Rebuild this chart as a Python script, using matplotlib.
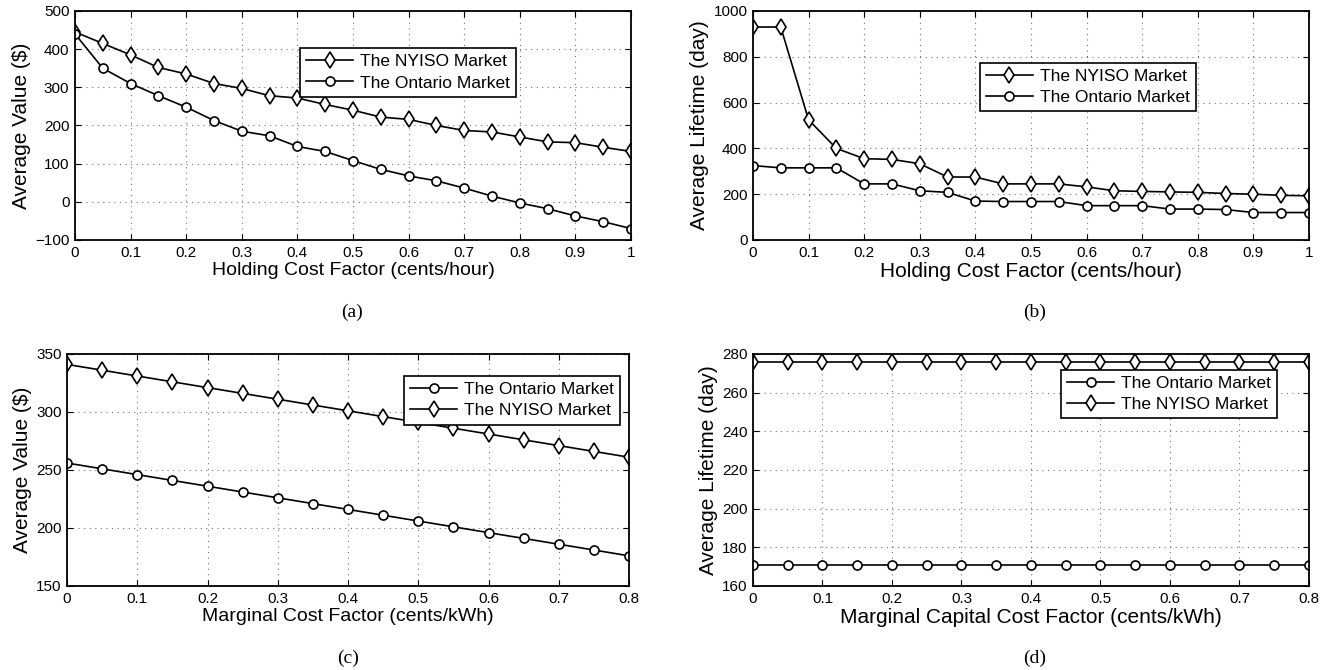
import matplotlib
matplotlib.use("Agg")
import matplotlib.pyplot as plt
import numpy as np

plt.rcParams["font.family"] = ["Liberation Sans", "DejaVu Sans"]

# ---- data ----
hold_x = [0, 0.05, 0.1, 0.15, 0.2, 0.25, 0.3, 0.35, 0.4, 0.45, 0.5,
          0.55, 0.6, 0.65, 0.7, 0.75, 0.8, 0.85, 0.9, 0.95, 1.0]
marg_x = [0, 0.05, 0.1, 0.15, 0.2, 0.25, 0.3, 0.35, 0.4, 0.45, 0.5,
          0.55, 0.6, 0.65, 0.7, 0.75, 0.8]

a_nyiso = [445, 415, 385, 352, 335, 310, 297, 278, 272, 255, 240,
           222, 216, 200, 187, 183, 170, 157, 155, 143, 132]
a_ontario = [440, 350, 310, 278, 248, 213, 185, 173, 145, 132, 108,
             85, 68, 55, 36, 15, -3, -18, -37, -52, -70]

b_nyiso = [930, 930, 525, 400, 355, 352, 333, 275, 275, 245, 245,
           245, 232, 215, 212, 210, 208, 203, 200, 195, 193]
b_ontario = [325, 315, 315, 315, 245, 245, 215, 208, 170, 168, 168,
             168, 150, 150, 150, 135, 135, 133, 120, 120, 120]

c_nyiso = [341, 336, 331, 326, 321, 316, 311, 306, 301, 296, 291,
           286, 281, 276, 271, 266, 261]
c_ontario = [256, 251, 246, 241, 236, 231, 226, 221, 216, 211, 206,
             201, 196, 191, 186, 181, 176]

d_nyiso = [276] * 17
d_ontario = [171] * 17

fig = plt.figure(figsize=(13.27, 6.70), dpi=100)

line = dict(color="black", lw=1.2, markerfacecolor="white",
            markeredgecolor="black", markeredgewidth=1.2)
dia = dict(marker="d", markersize=8, **line)
circ = dict(marker="o", markersize=6.5, **line)


def style(ax, xlim, ylim, yticks, xticks, xlabel, ylabel, xfs):
    ax.set_xlim(*xlim)
    ax.set_ylim(*ylim)
    ax.set_xticks(xticks)
    ax.set_yticks(yticks)
    ax.set_xticklabels([f"{t:g}" for t in xticks])
    ax.set_yticklabels([f"{t:g}".replace("-", "\u2212") for t in yticks])
    ax.grid(True, linestyle=(0, (1, 4)), color="black", lw=0.8, alpha=0.55)
    ax.tick_params(direction="in", top=True, right=True, labelsize=11,
                   length=4, pad=4)
    for s in ax.spines.values():
        s.set_linewidth(1.3)
    ax.set_xlabel(xlabel, fontsize=xfs, labelpad=2)
    ax.set_ylabel(ylabel, fontsize=15, labelpad=3)


def legend(ax, loc, anchor):
    lg = ax.legend(loc=loc, bbox_to_anchor=anchor, fontsize=12.5,
                   fancybox=False, edgecolor="black", framealpha=1,
                   borderpad=0.35, handlelength=2.7, handletextpad=0.4,
                   labelspacing=0.35, borderaxespad=0)
    lg.get_frame().set_linewidth(1.2)


# (a)
ax = fig.add_axes([0.0565, 0.6418, 0.419, 0.3418])
ax.plot(hold_x, a_nyiso, label="The NYISO Market", **dia)
ax.plot(hold_x, a_ontario, label="The Ontario Market", **circ)
style(ax, (0, 1), (-100, 500), np.arange(-100, 501, 100),
      np.round(np.arange(0, 1.01, 0.1), 1),
      "Holding Cost Factor (cents/hour)", "Average Value ($)", 14)
legend(ax, "upper left", (0.405, 0.838))
fig.text(0.265, 0.534, "(a)", fontsize=14, family="Liberation Serif",
         ha="center", va="center")

# (b)
ax = fig.add_axes([0.5674, 0.6418, 0.419, 0.3418])
ax.plot(hold_x, b_nyiso, label="The NYISO Market", **dia)
ax.plot(hold_x, b_ontario, label="The Ontario Market", **circ)
style(ax, (0, 1), (0, 1000), np.arange(0, 1001, 200),
      np.round(np.arange(0, 1.01, 0.1), 1),
      "Holding Cost Factor (cents/hour)", "Average Lifetime (day)", 15)
legend(ax, "upper left", (0.408, 0.775))
fig.text(0.7795, 0.534, "(b)", fontsize=14, family="Liberation Serif",
         ha="center", va="center")

# (c)
ax = fig.add_axes([0.0505, 0.1254, 0.4235, 0.3463])
ax.plot(marg_x, c_ontario, label="The Ontario Market", **circ)
ax.plot(marg_x, c_nyiso, label="The NYISO Market", **dia)
style(ax, (0, 0.8), (150, 350), np.arange(150, 351, 50),
      np.round(np.arange(0, 0.81, 0.1), 1),
      "Marginal Cost Factor (cents/kWh)", "Average Value ($)", 14)
legend(ax, "upper right", (0.984, 0.905))
fig.text(0.262, 0.018, "(c)", fontsize=14, family="Liberation Serif",
         ha="center", va="center")

# (d)
ax = fig.add_axes([0.5674, 0.1254, 0.419, 0.3463])
ax.plot(marg_x, d_ontario, label="The Ontario Market", **circ)
ax.plot(marg_x, d_nyiso, label="The NYISO Market", **dia)
style(ax, (0, 0.8), (160, 280), np.arange(160, 281, 20),
      np.round(np.arange(0, 0.81, 0.1), 1),
      "Marginal Capital Cost Factor (cents/kWh)", "Average Lifetime (day)", 15)
legend(ax, "upper right", (0.943, 0.933))
fig.text(0.7795, 0.018, "(d)", fontsize=14, family="Liberation Serif",
         ha="center", va="center")

fig.savefig("out.png", dpi=100)
